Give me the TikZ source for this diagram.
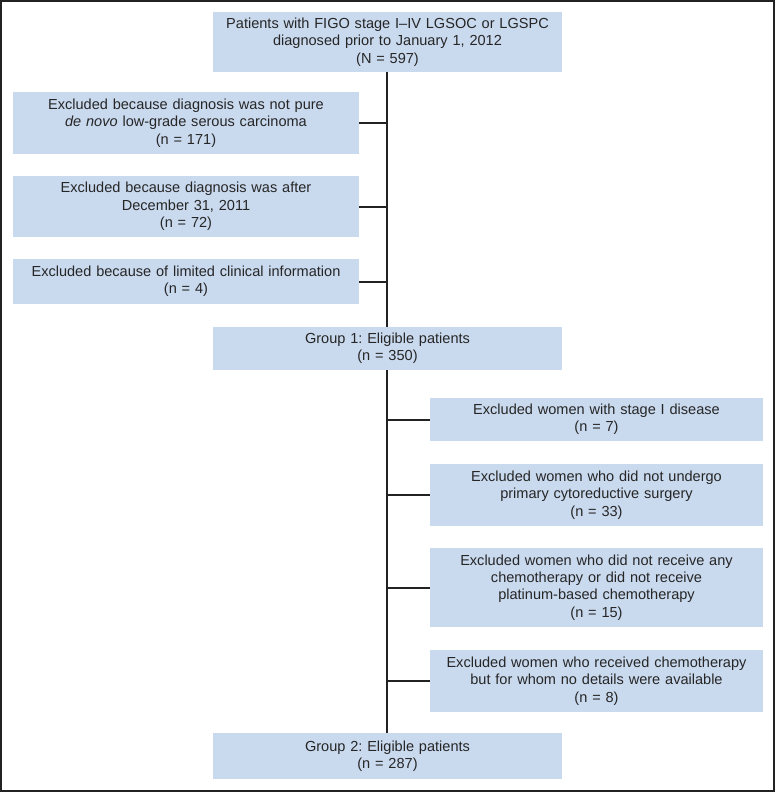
\documentclass[tikz,border=0pt]{standalone}
\usepackage{fontspec}
\setmainfont{Liberation Sans}
\frenchspacing
\definecolor{boxfill}{HTML}{C9D9EE}
\definecolor{linec}{HTML}{222222}
\begin{document}
\begin{tikzpicture}[x=1bp,y=-1bp,
  fbox/.style={fill=boxfill,draw=none,inner sep=0pt,align=center,
    font=\fontsize{14.6}{17.5}\selectfont,text=black!85},
  conn/.style={draw=linec,line width=2bp}]
\useasboundingbox (0,0) rectangle (775,792);
\draw[draw=linec,line width=2bp] (1,1) rectangle (774,791);
\node[fbox,minimum width=349bp,minimum height=60bp,text width=345bp] (top) at (387.5,42)
  {Patients with FIGO stage I–IV LGSOC or LGSPC\\diagnosed prior to January 1, 2012\\(N = 597)};
\node[fbox,minimum width=346bp,minimum height=62bp,text width=340bp] (l1) at (186,123)
  {Excluded because diagnosis was not pure\\\textit{de novo} low-grade serous carcinoma\\(n = 171)};
\node[fbox,minimum width=346bp,minimum height=61bp,text width=340bp] (l2) at (186,206.5)
  {Excluded because diagnosis was after\\December 31, 2011\\(n = 72)};
\node[fbox,minimum width=346bp,minimum height=45bp,text width=344bp] (l3) at (186,281.5)
  {Excluded because of limited clinical information\\(n = 4)};
\node[fbox,minimum width=349bp,minimum height=43bp,text width=345bp] (g1) at (387.5,348.5)
  {Group 1: Eligible patients\\(n = 350)};
\node[fbox,minimum width=333bp,minimum height=43bp,text width=329bp] (r1) at (596.5,419.5)
  {Excluded women with stage I disease\\(n = 7)};
\node[fbox,minimum width=333bp,minimum height=62bp,text width=329bp] (r2) at (596.5,495)
  {Excluded women who did not undergo\\primary cytoreductive surgery\\(n = 33)};
\node[fbox,minimum width=333bp,minimum height=79bp,text width=329bp] (r3) at (596.5,587.5)
  {Excluded women who did not receive any\\chemotherapy or did not receive\\platinum-based chemotherapy\\(n = 15)};
\node[fbox,minimum width=333bp,minimum height=62bp,text width=329bp] (r4) at (596.5,681)
  {Excluded women who received chemotherapy\\but for whom no details were available\\(n = 8)};
\node[fbox,minimum width=349bp,minimum height=46bp,text width=345bp] (g2) at (387.5,756)
  {Group 2: Eligible patients\\(n = 287)};
\coordinate (trunk) at (387,0);
\draw[conn] (top.south -| trunk) -- (g1.north -| trunk);
\draw[conn] (g1.south -| trunk) -- (g2.north -| trunk);
\foreach \n in {l1,l2,l3}{\draw[conn] (\n.east) -- (\n.east -| trunk);}
\foreach \n in {r1,r2,r3,r4}{\draw[conn] (\n.west) -- (\n.west -| trunk);}
\end{tikzpicture}
\end{document}
